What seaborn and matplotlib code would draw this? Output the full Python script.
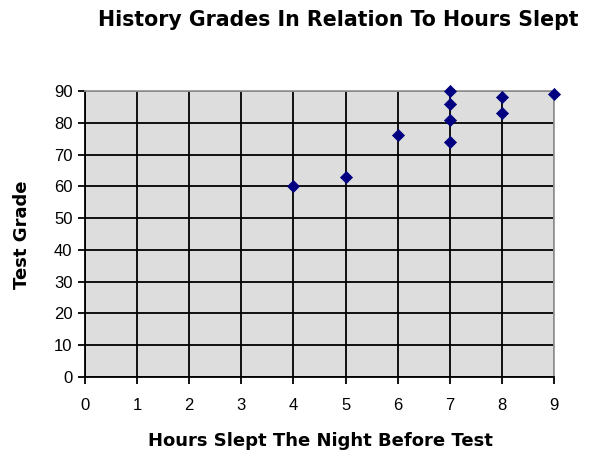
import seaborn as sns
from matplotlib import pyplot as plt
import pandas as pd

# hours slept vs. history test grade
hours = [4, 5, 6, 7, 7, 7, 7, 8, 8, 9]
grades = [60, 63, 76, 74, 81, 86, 90, 83, 88, 89]
x_ticks = list(range(0, 10))
y_ticks = list(range(0, 100, 10))

df = pd.DataFrame({"hours": hours, "grade": grades})

sns.set_style("white")
plt.rcParams["font.family"] = ["Liberation Sans", "DejaVu Sans"]
plt.rcParams["text.color"] = "black"
plt.rcParams["xtick.color"] = "black"
plt.rcParams["ytick.color"] = "black"

fig = plt.figure(figsize=(6.02, 4.57), dpi=100)
ax = fig.add_axes([85 / 602, 80 / 457, 469 / 602, 286 / 457])
ax.set_facecolor("#dddddd")

sns.scatterplot(data=df, x="hours", y="grade", ax=ax, marker="D", s=38,
                color="#000080", edgecolor="#000080", linewidth=0.5,
                clip_on=False, zorder=5)

ax.set_xlim(0, 9)
ax.set_ylim(0, 90)
ax.set_xticks(x_ticks)
ax.set_yticks(y_ticks)
ax.grid(True, color="black", linewidth=1.3)
ax.set_axisbelow(True)
ax.tick_params(axis="both", direction="out", length=5, width=1.3,
               color="black", labelsize=12, left=True, bottom=True)
ax.tick_params(axis="x", pad=10)
ax.tick_params(axis="y", pad=4)

for side in ["left", "bottom"]:
    ax.spines[side].set_color("black")
    ax.spines[side].set_linewidth(1.3)
for side in ["top", "right"]:
    ax.spines[side].set_color("#999999")
    ax.spines[side].set_linewidth(1.3)

ax.set_xlabel("")
ax.set_ylabel("")
bold = dict(family="DejaVu Sans", fontweight="bold", color="black")
fig.text(338 / 602, 1 - 20 / 457, "History Grades In Relation To Hours Slept",
         ha="center", va="center", fontsize=14.8, **bold)
fig.text(320 / 602, 1 - 441 / 457, "Hours Slept The Night Before Test",
         ha="center", va="center", fontsize=13, **bold)
fig.text(22 / 602, 1 - 235 / 457, "Test Grade", rotation=90,
         ha="center", va="center", fontsize=13, **bold)

plt.savefig("out.png", dpi=100)
